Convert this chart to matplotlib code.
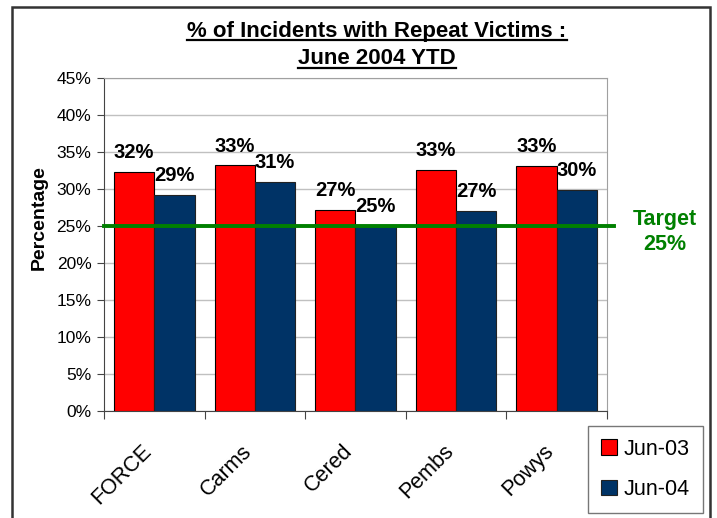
import matplotlib
matplotlib.use('Agg')
import matplotlib.pyplot as plt
import matplotlib.patches as mpatches
from matplotlib.lines import Line2D
import numpy as np

plt.rcParams['font.family'] = ['Liberation Sans', 'DejaVu Sans']

# data
areas = ['FORCE', 'Carms', 'Cered', 'Pembs', 'Powys']
jun03 = [32.3, 33.2, 27.2, 32.6, 33.1]
jun04 = [29.2, 31.0, 25.0, 27.0, 29.9]
target = 25
series_names = ['Jun-03', 'Jun-04']

red = '#ff0000'
navy = '#003366'
green = '#008000'

fig = plt.figure(figsize=(7.17, 5.18), dpi=100)
ax = fig.add_axes([0.145, 0.2066, 0.7016, 0.6428])

x = np.arange(len(areas))
w = 0.4
b1 = ax.bar(x - w / 2, jun03, w, color=red, edgecolor='black', linewidth=0.8, label=series_names[0], zorder=3)
b2 = ax.bar(x + w / 2, jun04, w, color=navy, edgecolor='#222222', linewidth=0.8, label=series_names[1], zorder=3)

for bars, vals in [(b1, jun03), (b2, jun04)]:
    for rect, v in zip(bars, vals):
        ax.annotate(f'{v:.0f}%', (rect.get_x() + rect.get_width() / 2, v), xytext=(0, 7),
                    textcoords='offset points', ha='center', va='bottom',
                    fontsize=14.5, fontweight='bold', zorder=5)

# target line, runs a little past the plot area
ax.plot([-0.5, 4.57], [target, target], color=green, lw=2.8, clip_on=False, zorder=4)
fig.text(665 / 717, 1 - 220 / 518, 'Target', color=green, fontsize=15.5,
         fontweight='bold', ha='center', va='center')
fig.text(665 / 717, 1 - 245 / 518, f'{target}%', color=green, fontsize=15.5,
         fontweight='bold', ha='center', va='center')

ax.set_xlim(-0.5, 4.5)
ax.set_ylim(0, 45)
ax.set_yticks(np.arange(0, 46, 5))
ax.set_yticklabels([f'{t}%' for t in range(0, 46, 5)], fontsize=12.5)
ax.yaxis.grid(True, color='#c0c0c0', lw=1, zorder=0)
ax.tick_params(axis='y', length=5, color='#444444', pad=4)

ax.set_xticks(np.arange(-0.5, 5, 1))
ax.set_xticklabels([])
ax.tick_params(axis='x', length=6, color='#444444')
for i, name in enumerate(areas):
    ax.annotate(name, (i, 0), xytext=(-6, -37), textcoords='offset pixels',
                ha='right', va='center', rotation=45, rotation_mode='anchor', fontsize=15.5)

for s in ['top', 'right']:
    ax.spines[s].set_color('#a0a0a0')
for s in ['left', 'bottom']:
    ax.spines[s].set_color('#444444')

fig.text(39 / 717, 1 - 218 / 518, 'Percentage', fontsize=14, fontweight='bold',
         rotation=90, ha='center', va='center')

leg = fig.legend(handles=[b1, b2], loc='lower left', bbox_to_anchor=(588 / 717, 1 - 513 / 518),
                 fontsize=15.5, frameon=True, fancybox=False, edgecolor='#555555',
                 handlelength=0.75, handleheight=0.75, handletextpad=0.3, labelspacing=0.9,
                 borderpad=0.6, borderaxespad=0)
leg.get_frame().set_linewidth(1)

# outer chart frame (bottom edge is off the picture)
fig.patches.append(mpatches.Rectangle((12 / 717, -0.05), (710 - 12) / 717, 1.05 - 7 / 518,
                                      transform=fig.transFigure, fill=False,
                                      edgecolor='#333333', lw=1.8))

# underlined two-line title
title_lines = ['% of Incidents with Repeat Victims :', 'June 2004 YTD']
title_y = [1 - 31 / 518, 1 - 59 / 518]
fig.canvas.draw()
r = fig.canvas.get_renderer()
for txt, ty in zip(title_lines, title_y):
    t = fig.text(377 / 717, ty, txt, fontsize=16, fontweight='bold', ha='center', va='center')
    bb = t.get_window_extent(renderer=r).transformed(fig.transFigure.inverted())
    fig.add_artist(Line2D([bb.x0, bb.x1], [bb.y0 + 0.003, bb.y0 + 0.003],
                          transform=fig.transFigure, color='black', lw=1.6))

fig.savefig('out.png', dpi=100)
